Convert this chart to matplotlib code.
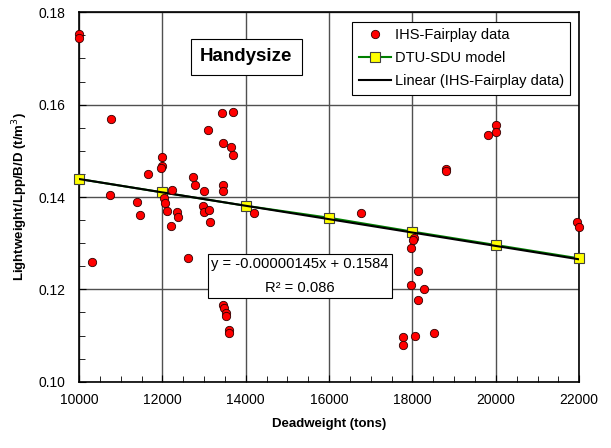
import numpy as np
import matplotlib.pyplot as plt
from matplotlib.ticker import MultipleLocator

plt.rcParams['font.family'] = ['Liberation Sans', 'DejaVu Sans']

# IHS-Fairplay data
dwt = [10000, 10000, 10760, 13437, 13702, 13087, 13446, 13653, 13702, 11998,
       11998, 11967, 11648, 12742, 12790, 13446, 13446, 13006, 12223, 10744,
       11399, 11463, 12046, 12063, 12118, 12358, 12367, 12199, 12982, 12998,
       13118, 13142, 12606, 10312, 13462, 13480, 13518, 13530, 13598, 13605,
       14205, 20002, 20002, 19818, 18803, 18815, 16764, 18035, 18020, 17963,
       18131, 17963, 18283, 18131, 17764, 17764, 18059, 18508, 21938, 22000]
lw = [0.1752, 0.1744, 0.1569, 0.1582, 0.1585, 0.1545, 0.1518, 0.1509, 0.1491, 0.1487,
      0.1467, 0.1462, 0.1449, 0.1443, 0.1425, 0.1425, 0.1413, 0.1413, 0.1415, 0.1404,
      0.1390, 0.1361, 0.1397, 0.1386, 0.1370, 0.1368, 0.1357, 0.1337, 0.1380, 0.1368,
      0.1372, 0.1346, 0.1268, 0.1259, 0.1166, 0.1160, 0.1149, 0.1142, 0.1112, 0.1106,
      0.1366, 0.1556, 0.1540, 0.1534, 0.1460, 0.1456, 0.1366, 0.1312, 0.1307, 0.1290,
      0.1239, 0.1209, 0.1201, 0.1176, 0.1096, 0.1080, 0.1098, 0.1105, 0.1346, 0.1334]

# DTU-SDU model
model_dwt = [10000, 12000, 14000, 16000, 18000, 20000, 22000]
model_lw = [0.1439, 0.1410, 0.1381, 0.1355, 0.1325, 0.1296, 0.1267]

# linear trend of the IHS data
slope = -0.00000145
intercept = 0.1584
r2 = 0.086

fig = plt.figure(figsize=(6.11, 4.48), dpi=100)
ax = fig.add_axes([0.1293, 0.148, 0.8187, 0.8245])

ax.plot(model_dwt, model_lw, color='#008000', lw=1.5, marker='s', ms=6.5,
        mfc='#ffff00', mec='#404040', mew=0.8, label='DTU-SDU model', zorder=3,
        clip_on=False)
xt = np.array([10000, 22000])
ax.plot(xt, slope * xt + intercept, color='black', lw=1.5,
        label='Linear (IHS-Fairplay data)', zorder=4)
ax.plot(dwt, lw, linestyle='none', marker='o', ms=6, mfc='red', mec='#300000',
        mew=0.6, label='IHS-Fairplay data', zorder=5, clip_on=False)

ax.set_xlim(10000, 22000)
ax.set_ylim(0.10, 0.18)
ax.xaxis.set_major_locator(MultipleLocator(2000))
ax.xaxis.set_minor_locator(MultipleLocator(500))
ax.yaxis.set_major_locator(MultipleLocator(0.02))
ax.yaxis.set_minor_locator(MultipleLocator(0.005))
ax.yaxis.set_major_formatter(plt.FormatStrFormatter('%.2f'))
ax.tick_params(which='both', direction='in', labelsize=10, pad=8)
ax.tick_params(which='major', length=5)
ax.tick_params(which='minor', length=4)
ax.tick_params(axis='y', pad=10)
ax.grid(True, which='major', color='#505050', lw=1)
ax.set_axisbelow(True)
for s in ax.spines.values():
    s.set_linewidth(1.2)

ax.set_xlabel('Deadweight (tons)', fontsize=9.5, fontweight='bold', labelpad=8)
ax.set_ylabel('Lightweight/Lpp/B/D (t/m$^3$)', fontsize=9.5, fontweight='bold',
              labelpad=6)

h, l = ax.get_legend_handles_labels()
order = [2, 0, 1]
leg = ax.legend([h[i] for i in order], [l[i] for i in order], loc='upper right',
                bbox_to_anchor=(0.982, 0.974), borderaxespad=0, fontsize=10.5,
                fancybox=False, edgecolor='black', framealpha=1, handlelength=2.2,
                borderpad=0.45, labelspacing=0.6, handletextpad=0.25)
leg.get_frame().set_linewidth(0.8)

ax.text(0.334, 0.88, 'Handysize', transform=ax.transAxes, fontsize=13.5,
        fontweight='bold', ha='center', va='center',
        bbox=dict(boxstyle='square,pad=0.5', fc='white', ec='black', lw=0.8))
ax.text(0.442, 0.286, 'y = -0.00000145x + 0.1584\nR\u00b2 = 0.086', transform=ax.transAxes,
        fontsize=10.6, ha='center', va='center', multialignment='center',
        linespacing=1.85,
        bbox=dict(boxstyle='square,pad=0.25', fc='white', ec='black', lw=0.8),
        zorder=6)

fig.savefig('out.png', dpi=100)
